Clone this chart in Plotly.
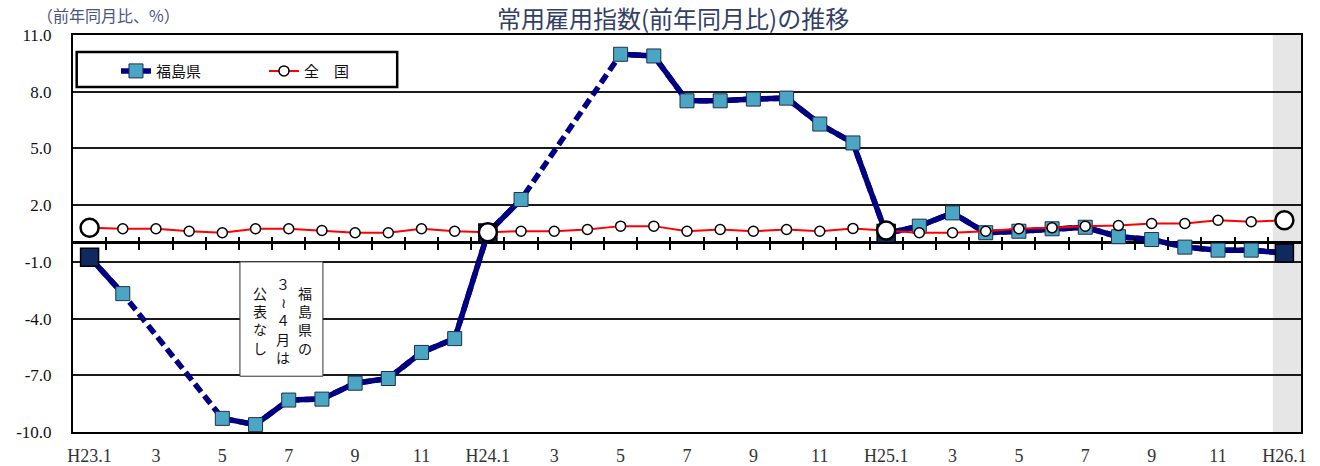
import plotly.graph_objects as go

# Months H23.1 .. H26.1
months = [f"H{yr}.{mo}" for yr in (23, 24, 25) for mo in range(1, 13)] + ["H26.1"]

# Year-on-year change (%) of the regular employment index
fukushima = [-0.75, -2.68, None, None, -9.28, -9.61, -8.31, -8.26, -7.42, -7.17, -5.79, -5.06,
             0.53, 2.30, None, None, 9.98, 9.89, 7.52, 7.52, 7.61, 7.66, 6.29, 5.29,
             0.50, 0.89, 1.59, 0.54, 0.62, 0.75, 0.83, 0.33, 0.18, -0.22, -0.38, -0.38,
             -0.53]
zenkoku = [0.80, 0.75, 0.75, 0.62, 0.54, 0.75, 0.75, 0.66, 0.54, 0.54, 0.75, 0.62,
           0.57, 0.62, 0.62, 0.71, 0.89, 0.89, 0.62, 0.71, 0.62, 0.71, 0.62, 0.77,
           0.66, 0.54, 0.54, 0.62, 0.75, 0.80, 0.89, 0.92, 1.03, 1.03, 1.20, 1.12, 1.20]

x_tick_labels = ["H23.1", "3", "5", "7", "9", "11",
                 "H24.1", "3", "5", "7", "9", "11",
                 "H25.1", "3", "5", "7", "9", "11", "H26.1"]
y_tick_values = [-10, -7, -4, -1, 2, 5, 8, 11]
y_tick_labels = ["-10.0", "-7.0", "-4.0", "-1.0", "2.0", "5.0", "8.0", "11.0"]

NAVY = "#000080"
TEAL = "#4BA6C4"
SERIF = "Liberation Serif"
JP = "Noto Sans CJK JP"

# January points get the larger markers
jan_idx = [i for i, m in enumerate(months) if m.endswith(".1")]
jan_x = [months[i] for i in jan_idx]

fig = go.Figure()

# Dashed bridge across the unpublished months (hidden under the solid line elsewhere)
fig.add_trace(go.Scatter(
    x=months, y=fukushima, mode="lines", connectgaps=True,
    line=dict(color=NAVY, width=5.5, dash="10px,5px"),
    showlegend=False, hoverinfo="skip"))

fig.add_trace(go.Scatter(
    x=months, y=fukushima, mode="lines+markers", name="福島県", connectgaps=False,
    line=dict(color=NAVY, width=5.5),
    marker=dict(symbol="square", size=14, color=TEAL, line=dict(color="#1F2F4F", width=1))))

fig.add_trace(go.Scatter(
    x=jan_x, y=[fukushima[i] for i in jan_idx], mode="markers",
    marker=dict(symbol="square", size=18, color="#0E2A5E", line=dict(color="#000000", width=1.5)),
    showlegend=False, hoverinfo="skip"))

fig.add_trace(go.Scatter(
    x=months, y=zenkoku, mode="lines+markers", name="全\u3000国",
    line=dict(color="#FF0000", width=2),
    marker=dict(symbol="circle", size=10, color="white", line=dict(color="#000000", width=1.5))))

fig.add_trace(go.Scatter(
    x=jan_x, y=[zenkoku[i] for i in jan_idx], mode="markers",
    marker=dict(symbol="circle", size=18, color="white", line=dict(color="#000000", width=2.5)),
    showlegend=False, hoverinfo="skip"))

axis_range = [-0.5, len(months) - 0.5]
boundaries = [i + 0.5 for i in range(len(months) - 1)]
zero_pos = (0 - y_tick_values[0]) / (y_tick_values[-1] - y_tick_values[0])

fig.update_layout(
    width=1320, height=466,
    margin=dict(l=73, r=19, t=35, b=34, autoexpand=False),
    paper_bgcolor="white", plot_bgcolor="white",
    xaxis=dict(
        type="category", categoryorder="array", categoryarray=months,
        range=axis_range, automargin=False,
        tickmode="array", tickvals=months[::2], ticktext=x_tick_labels,
        ticks="", showgrid=False, zeroline=False,
        showline=True, mirror=True, linecolor="#000000", linewidth=2,
        tickfont=dict(family=SERIF, size=18, color="#333333"),
        ticklabelstandoff=6),
    xaxis2=dict(
        overlaying="x", anchor="free", position=zero_pos, range=axis_range, automargin=False,
        tickmode="array", tickvals=boundaries, ticks="outside", ticklen=6, tickwidth=2,
        tickcolor="#000000", showticklabels=False, showgrid=False, zeroline=False, showline=False),
    xaxis3=dict(
        overlaying="x", anchor="free", position=zero_pos, range=axis_range, automargin=False,
        tickmode="array", tickvals=boundaries, ticks="inside", ticklen=6, tickwidth=2,
        tickcolor="#000000", showticklabels=False, showgrid=False, zeroline=False, showline=False),
    yaxis=dict(
        range=[y_tick_values[0], y_tick_values[-1]], automargin=False,
        tickmode="array", tickvals=y_tick_values, ticktext=y_tick_labels,
        showgrid=True, gridcolor="#1A1A1A", gridwidth=1.5,
        zeroline=True, zerolinecolor="#000000", zerolinewidth=3,
        showline=True, mirror=True, linecolor="#000000", linewidth=2,
        ticks="", ticklabelstandoff=16,
        tickfont=dict(family=SERIF, size=17, color="#111111")),
    legend=dict(
        orientation="h", x=0.035, y=0.909, xanchor="left", yanchor="middle",
        bgcolor="rgba(0,0,0,0)", borderwidth=0,
        entrywidth=103, entrywidthmode="pixels",
        font=dict(family=JP, size=15, color="#111111")),
    showlegend=True,
)

# Empty traces on the tick-only axes so they render
fig.add_trace(go.Scatter(x=[], y=[], xaxis="x2", showlegend=False, hoverinfo="skip"))
fig.add_trace(go.Scatter(x=[], y=[], xaxis="x3", showlegend=False, hoverinfo="skip"))

# Shaded latest month
fig.add_shape(type="rect", xref="x", yref="y", x0=35.65, x1=36.5,
              y0=y_tick_values[0], y1=y_tick_values[-1],
              fillcolor="#E6E6E6", line=dict(width=0), layer="below")

# Legend frame
fig.add_shape(type="rect", xref="paper", yref="paper", x0=0.003, x1=0.264, y0=0.869, y1=0.957,
              fillcolor="white", line=dict(color="#000000", width=2.5), layer="between")

# Note box: Fukushima figures for March-April not published
fig.add_shape(type="rect", xref="x", yref="y", x0=4.53, x1=7.03, y0=-7.05, y1=-1.0,
              fillcolor="white", line=dict(color="#333333", width=1), layer="between")
note_cols = [("福<br>島<br>県<br>の", 6.49), ("３<br>≀<br>４<br>月<br>は", 5.82), ("公<br>表<br>な<br>し", 5.13)]
for text, xc in note_cols:
    fig.add_annotation(x=xc, y=-4.1, xref="x", yref="y", text=text, showarrow=False,
                       font=dict(family=JP, size=14, color="#111111"),
                       xanchor="center", yanchor="middle")

# Title and unit label above the plot area
fig.add_annotation(x=0.489, y=1.045, xref="paper", yref="paper", text="常用雇用指数(前年同月比)の推移",
                   showarrow=False, font=dict(family=JP, size=24, color="#333F66"),
                   xanchor="center", yanchor="middle")
fig.add_annotation(x=-0.031, y=1.05, xref="paper", yref="paper", text="（前年同月比、%）",
                   showarrow=False, font=dict(family=JP, size=16, color="#4A5580"),
                   xanchor="left", yanchor="middle")

fig.write_html("out.html")
